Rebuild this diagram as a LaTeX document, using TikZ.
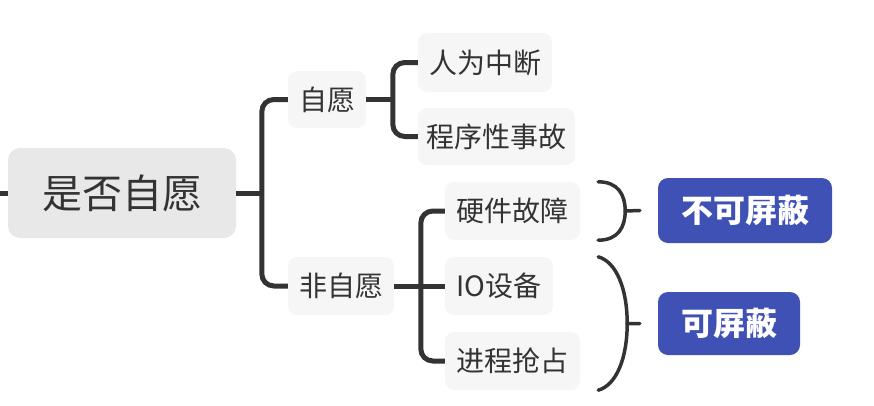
\documentclass[tikz,border=0pt]{standalone}
\usepackage{fontspec}
\setmainfont{Noto Sans CJK SC}
\usetikzlibrary{calc}
\definecolor{linegray}{HTML}{333333}
\definecolor{textgray}{HTML}{333333}
\definecolor{rootgray}{HTML}{E8E8E8}
\definecolor{topicgray}{HTML}{F6F6F6}
\definecolor{tagblue}{HTML}{3F51B5}
\tikzset{
	topic/.style={fill=topicgray, text=textgray, rounded corners=9pt, inner sep=0pt, font=\fontsize{28}{30}\selectfont},
	rootbox/.style={fill=rootgray, text=textgray, rounded corners=12pt, inner sep=0pt, font=\fontsize{40}{42}\selectfont},
	tagbox/.style={fill=tagblue, text=white, rounded corners=10pt, inner sep=0pt, font=\fontsize{32}{34}\selectfont\bfseries},
	conn/.style={draw=linegray, line width=5pt, rounded corners=12pt},
	brace/.style={draw=linegray, line width=3.5pt, line cap=round},
}

\begin{document}
\begin{tikzpicture}[x=1pt, y=-1pt]
	\useasboundingbox (0,0) rectangle (874,405);
	
	\node[rootbox, minimum width=228pt, minimum height=90pt] (root) at (122,193) {是否自愿};
	
	\node[topic, minimum width=78pt, minimum height=57pt] (ziyuan) at (327,99.5) {自愿};
	\node[topic, minimum width=106pt, minimum height=58pt] (feiziyuan) at (341,286) {非自愿};
	
	\node[topic, minimum width=134pt, minimum height=59pt] (renwei) at (485,62.5) {人为中断};
	\node[topic, minimum width=157pt, minimum height=57pt] (chengxu) at (496.5,136.5) {程序性事故};
	
	\node[topic, minimum width=135pt, minimum height=58pt] (yingjian) at (512.5,211) {硬件故障};
	\node[topic, minimum width=108pt, minimum height=58pt] (io) at (499,286) {IO设备};
	\node[topic, minimum width=135pt, minimum height=58pt] (jincheng) at (512.5,361) {进程抢占};
	
	\node[tagbox, minimum width=174pt, minimum height=65pt] (bupingbi) at (745,210.5) {不可屏蔽};
	\node[tagbox, minimum width=142pt, minimum height=63pt] (kepingbi) at (729,323.5) {可屏蔽};
	
	\coordinate (stub) at (0,193);
	\draw[conn] (stub) -- (root.west);
	\draw[conn] (root.east) -- ++(26,0);
	\draw[conn] (ziyuan.west) -- ++(-26,0) |- (feiziyuan.west);
	
	\draw[conn] (ziyuan.east) -- ++(27,0);
	\draw[conn] (renwei.west) -- ++(-25,0) |- (chengxu.west);
	
	\draw[conn] (feiziyuan.east) -- (io.west);
	\draw[conn] (yingjian.west) -- ++(-24,0) |- (jincheng.west);
	
	\coordinate (b1top) at ($(yingjian.north east)+(18,0)$);
	\coordinate (b1bot) at ($(yingjian.south east)+(18,0)$);
	\coordinate (b1mid) at ($(yingjian.east)+(45,0)$);
	\draw[brace] (b1top) .. controls +(20,0) and +(0,-16) .. (b1mid) .. controls +(0,16) and +(20,0) .. (b1bot);
	\draw[brace] (b1mid) -- ($(bupingbi.west)+(-18,0)$);
	
	\coordinate (b2top) at ($(io.north -| yingjian.east)+(18,0)$);
	\coordinate (b2bot) at ($(jincheng.south east)+(18,0)$);
	\coordinate (b2mid) at ($(b2top)!0.5!(b2bot)+(29,0)$);
	\draw[brace] (b2top) .. controls +(18,5) and +(0,-35) .. (b2mid) .. controls +(0,35) and +(18,-5) .. (b2bot);
	\draw[brace] (b2mid) -- ($(kepingbi.west)+(-18,0)$);
\end{tikzpicture}
\end{document}
